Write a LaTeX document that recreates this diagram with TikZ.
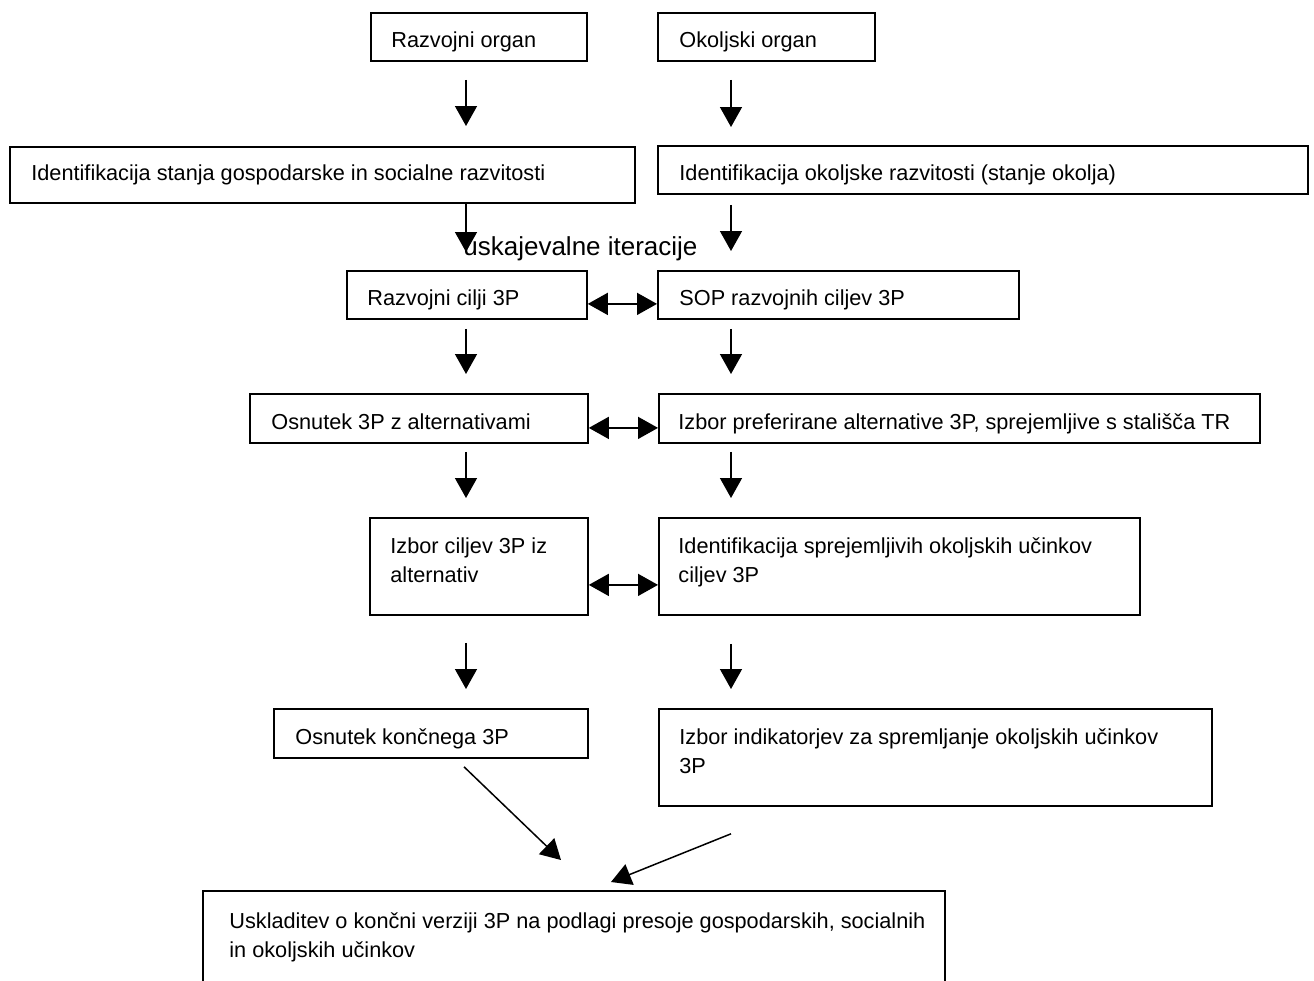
\documentclass[tikz,border=0pt]{standalone}
\usepackage{fontspec}
\setmainfont{Liberation Sans}
\usetikzlibrary{arrows.meta,positioning,calc}

\begin{document}
\begin{tikzpicture}[
  x=0.5pt,y=-0.5pt,
  blk/.style={draw,line width=0.9pt,inner sep=0pt,anchor=north west},
  txt/.style={anchor=base west,inner sep=0pt,align=left,font=\fontsize{10.85}{14.5}\selectfont},
  arr/.style={line width=0.75pt,-{Triangle[length=10pt,width=11pt]}},
  biarr/.style={line width=0.75pt,{Triangle[length=10pt,width=11pt]}-{Triangle[length=10pt,width=11pt]}},
]
\useasboundingbox (0,0) rectangle (1314,981);
\coordinate (lcol) at (466,0);
\coordinate (rcol) at (731,0);
% left column
\node[blk,minimum width=108pt,minimum height=24pt] (ro) at (370,12) {};
\node[txt] (ro-t) at ([shift={(21,35)}]ro.north west) {Razvojni organ};
\node[blk,minimum width=312.5pt,minimum height=28pt] (ids) at (9,146) {};
\node[txt] (ids-t) at ([shift={(22,34)}]ids.north west) {Identifikacija stanja gospodarske in socialne razvitosti};
\node[blk,minimum width=120pt,minimum height=24pt] (rc) at (346,270) {};
\node[txt] (rc-t) at ([shift={(21,35)}]rc.north west) {Razvojni cilji 3P};
\node[blk,minimum width=169pt,minimum height=24.5pt] (o3p) at (249,393) {};
\node[txt] (o3p-t) at ([shift={(22,36)}]o3p.north west) {Osnutek 3P z alternativami};
\node[blk,minimum width=109pt,minimum height=48.5pt] (ic) at (369,517) {};
\node[txt] (ic-t) at ([shift={(21,65)}]ic.north west) {Izbor ciljev 3P iz\\alternativ};
\node[blk,minimum width=157pt,minimum height=24.5pt] (ok) at (273,708) {};
\node[txt] (ok-t) at ([shift={(22,36)}]ok.north west) {Osnutek končnega 3P};
% right column
\node[blk,minimum width=108.5pt,minimum height=24pt] (oo) at (657,12) {};
\node[txt] (oo-t) at ([shift={(22,35)}]oo.north west) {Okoljski organ};
\node[blk,minimum width=325pt,minimum height=24pt] (ido) at (657,145) {};
\node[txt] (ido-t) at ([shift={(22,35)}]ido.north west) {Identifikacija okoljske razvitosti (stanje okolja)};
\node[blk,minimum width=180.5pt,minimum height=24pt] (sop) at (657,270) {};
\node[txt] (sop-t) at ([shift={(22,35)}]sop.north west) {SOP razvojnih ciljev 3P};
\node[blk,minimum width=300.5pt,minimum height=24.5pt] (ip) at (658,393) {};
\node[txt] (ip-t) at ([shift={(20,36)}]ip.north west) {Izbor preferirane alternative 3P, sprejemljive s stališča TR};
\node[blk,minimum width=240.5pt,minimum height=48.5pt] (isp) at (658,517) {};
\node[txt] (isp-t) at ([shift={(20,65)}]isp.north west) {Identifikacija sprejemljivih okoljskih učinkov\\ciljev 3P};
\node[blk,minimum width=276.5pt,minimum height=48.5pt] (ii) at (658,708) {};
\node[txt] (ii-t) at ([shift={(21,65)}]ii.north west) {Izbor indikatorjev za spremljanje okoljskih učinkov\\3P};
% bottom box, open at the lower edge
\node[blk,minimum width=371pt,minimum height=55pt] (usk) at (202,890) {};
\node[txt] (usk-t) at ([shift={(27,67)}]usk.north west) {Uskladitev o končni verziji 3P na podlagi presoje gospodarskih, socialnih\\in okoljskih učinkov};
\node[anchor=base west,inner sep=0pt,font=\fontsize{13}{15}\selectfont] (iter) at (463,255) {uskajevalne iteracije};
% connectors
\draw[arr,shorten <=9pt,shorten >=10pt] (ro.south -| lcol) -- (ids.north -| lcol);
\draw[arr,shorten <=9pt,shorten >=9pt] (oo.south -| rcol) -- (ido.north -| rcol);
\draw[arr,shorten >=9pt] (ids.south -| lcol) -- (rc.north -| lcol);
\draw[arr,shorten <=5pt,shorten >=9.5pt] (ido.south -| rcol) -- (sop.north -| rcol);
\draw[arr,shorten <=4.5pt,shorten >=9.5pt] (rc.south -| lcol) -- (o3p.north -| lcol);
\draw[arr,shorten <=4.5pt,shorten >=9.5pt] (sop.south -| rcol) -- (ip.north -| rcol);
\draw[arr,shorten <=4pt,shorten >=9.5pt] (o3p.south -| lcol) -- (ic.north -| lcol);
\draw[arr,shorten <=4pt,shorten >=9.5pt] (ip.south -| rcol) -- (isp.north -| rcol);
\draw[arr,shorten <=13.5pt,shorten >=9.5pt] (ic.south -| lcol) -- (ok.north -| lcol);
\draw[arr,shorten <=14pt,shorten >=9.5pt] (isp.south -| rcol) -- (ii.north -| rcol);
\draw[biarr] ([yshift=-4.5pt]rc.east) -- ([yshift=-4.5pt]sop.west);
\draw[biarr] ([yshift=-4.75pt]o3p.east) -- ([yshift=-4.75pt]ip.west);
\draw[biarr] ([yshift=-9.25pt]ic.east) -- ([yshift=-9.25pt]isp.west);
\coordinate (ok-foot) at ($(ok.south -| lcol)+(-2,8)$);
\coordinate (ii-foot) at ($(ii.south -| rcol)+(0,27)$);
\coordinate (usk-a) at ($(usk.north west)+(359,-30)$);
\coordinate (usk-b) at ($(usk.north west)+(409,-8)$);
\draw[arr] (ok-foot) -- (usk-a);
\draw[arr] (ii-foot) -- (usk-b);
\end{tikzpicture}
\end{document}
